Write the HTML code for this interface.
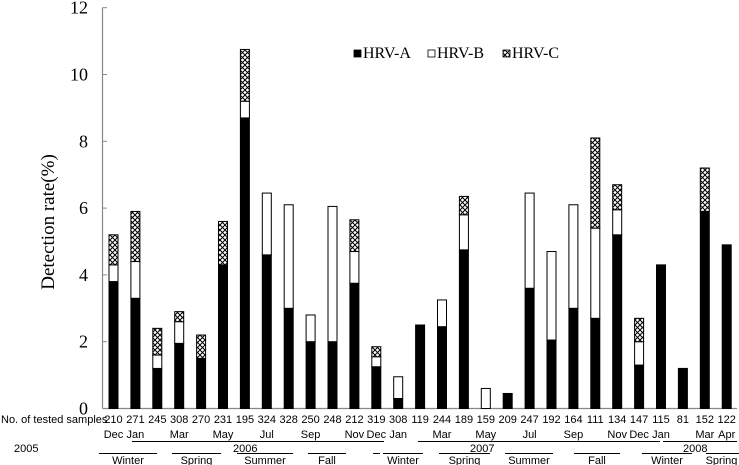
<!DOCTYPE html>
<html><head><meta charset="utf-8"><style>
html,body{margin:0;padding:0;background:#fff;}
svg{display:block;}
</style></head><body>
<svg id="chart" width="739" height="465" viewBox="0 0 739 465" xmlns="http://www.w3.org/2000/svg">
<defs>
<pattern id="hatch" patternUnits="userSpaceOnUse" width="5" height="5">
<rect width="5" height="5" fill="#fff"/>
<path d="M0,0 L5,5 M5,0 L0,5" stroke="#000" stroke-width="1"/>
</pattern>
</defs>
<g id="axes"></g>
<g id="bars"></g>
<g id="labels"></g>
</svg>
<script>
const months = ["Dec","Jan","Feb","Mar","Apr","May","Jun","Jul","Aug","Sep","Oct","Nov","Dec","Jan","Feb","Mar","Apr","May","Jun","Jul","Aug","Sep","Oct","Nov","Dec","Jan","Feb","Mar","Apr"];
const samples = [210,271,245,308,270,231,195,324,328,250,248,212,319,308,119,244,189,159,209,247,192,164,111,134,147,115,81,152,122];
const hrvA = [3.8,3.3,1.2,1.95,1.5,4.3,8.7,4.6,3.0,2.0,2.0,3.75,1.25,0.3,2.5,2.45,4.75,0,0.45,3.6,2.05,3.0,2.7,5.2,1.3,4.3,1.2,5.9,4.9];
const hrvB = [0.5,1.1,0.4,0.65,0,0,0.5,1.85,3.1,0.8,4.05,0.95,0.3,0.65,0,0.8,1.05,0.6,0,2.85,2.65,3.1,2.7,0.75,0.7,0,0,0,0];
const hrvC = [0.9,1.5,0.8,0.3,0.7,1.3,1.55,0,0,0,0,0.95,0.3,0,0,0,0.55,0,0,0,0,0,2.7,0.75,0.7,0,0,1.3,0];
const yTicks = [0,2,4,6,8,10,12];
const monthLabelShown = [true,true,false,true,false,true,false,true,false,true,false,true,true,true,false,true,false,true,false,true,false,true,false,true,true,true,false,true,true];

const NS="http://www.w3.org/2000/svg";
const x0=113.5, dx=21.9, bw=9;
const y=v=>408.5-33.4*v;
const x=i=>x0+dx*i;
function mk(tag,attrs,parent,text){const e=document.createElementNS(NS,tag);for(const k in attrs)e.setAttribute(k,attrs[k]);if(text!==undefined)e.textContent=text;parent.appendChild(e);return e;}
const axes=document.getElementById('axes'), bars=document.getElementById('bars'), labels=document.getElementById('labels');

let yl=mk('line',{x1:102.5,y1:y(12),x2:102.5,y2:y(0),stroke:'#888','stroke-width':1.2},axes);


let xl=mk('line',{x1:102.5,y1:y(0),x2:737,y2:y(0),stroke:'#888','stroke-width':1.2},axes);


yTicks.forEach(t=>{
  let tk=mk('line',{x1:102.5,y1:y(t),x2:107,y2:y(t),stroke:'#888','stroke-width':1},axes);
  
  
  let tl=mk('text',{x:88,y:y(t)+6,'text-anchor':'end','font-family':'Liberation Serif, serif','font-size':18},axes,String(t));
  
  
});
let yt=mk('text',{x:0,y:0,transform:'translate(54,222) rotate(-90)','text-anchor':'middle','font-family':'Liberation Serif, serif','font-size':19},axes,'Detection rate(%)');



months.forEach((m,i)=>{
  const a=hrvA[i], b=hrvB[i], c=hrvC[i];
  const segs=[[0,a,'#000','hrv-a'],[a,a+b,'#fff','hrv-b'],[a+b,a+b+c,'url(#hatch)','hrv-c']];
  segs.forEach(s=>{
    if(s[1]-s[0]<=0) return;
    let r=mk('rect',{x:x(i)-bw/2,y:y(s[1]),width:bw,height:y(s[0])-y(s[1]),fill:s[2],stroke:'#000','stroke-width':1},bars);
    
    
  });
  let st=mk('text',{x:x(i),y:423,'text-anchor':'middle','font-family':'Liberation Sans, sans-serif','font-size':11},labels,String(samples[i]));
  
  
  if(monthLabelShown[i]){
    let ml=mk('text',{x:x(i),y:438,'text-anchor':'middle','font-family':'Liberation Sans, sans-serif','font-size':11},labels,m);
    
    
  }
});
let nt=mk('text',{x:1,y:423,'font-family':'Liberation Sans, sans-serif','font-size':11},labels,'No. of tested samples');



const years=[["2005",14,null,null],["2006",233,132,384],["2007",470,418,660],["2008",683,663,737]];
years.forEach(yy=>{
  let t=mk('text',{x:yy[1],y:452,'font-family':'Liberation Sans, sans-serif','font-size':11},labels,yy[0]);
  
  
  if(yy[2]!==null){
    let l=mk('line',{x1:yy[2],y1:441.5,x2:yy[3],y2:441.5,stroke:'#000','stroke-width':1},labels);
    
    
  }
});
const seasons=[["Winter",99,157],["Spring",172,221],["Summer",237,293],["Fall",308,346],["Winter",383,423],["Spring",439,490],["Summer",505,553],["Fall",574,620],["Winter",642,692],["Spring",706,739]];
seasons.forEach(s=>{
  let l=mk('line',{x1:s[1],y1:453.5,x2:s[2],y2:453.5,stroke:'#000','stroke-width':1},labels);
  
  
  let t=mk('text',{x:(s[1]+Math.min(s[2],737))/2,y:464,'text-anchor':'middle','font-family':'Liberation Sans, sans-serif','font-size':11},labels,s[0]);
  
  
});
let hl=mk('line',{x1:373,y1:453.5,x2:380,y2:453.5,stroke:'#000','stroke-width':1},labels);



const legend=[["HRV-A",354,'#000'],["HRV-B",428,'#fff'],["HRV-C",503,'url(#hatch)']];
legend.forEach(l=>{
  let r=mk('rect',{x:l[1],y:50,width:7,height:7,fill:l[2],stroke:'#000','stroke-width':0.8},labels);
  
  
  let t=mk('text',{x:l[1]+9,y:58,'font-family':'Liberation Serif, serif','font-size':16},labels,l[0]);
  
  
});
</script>
</body></html>
